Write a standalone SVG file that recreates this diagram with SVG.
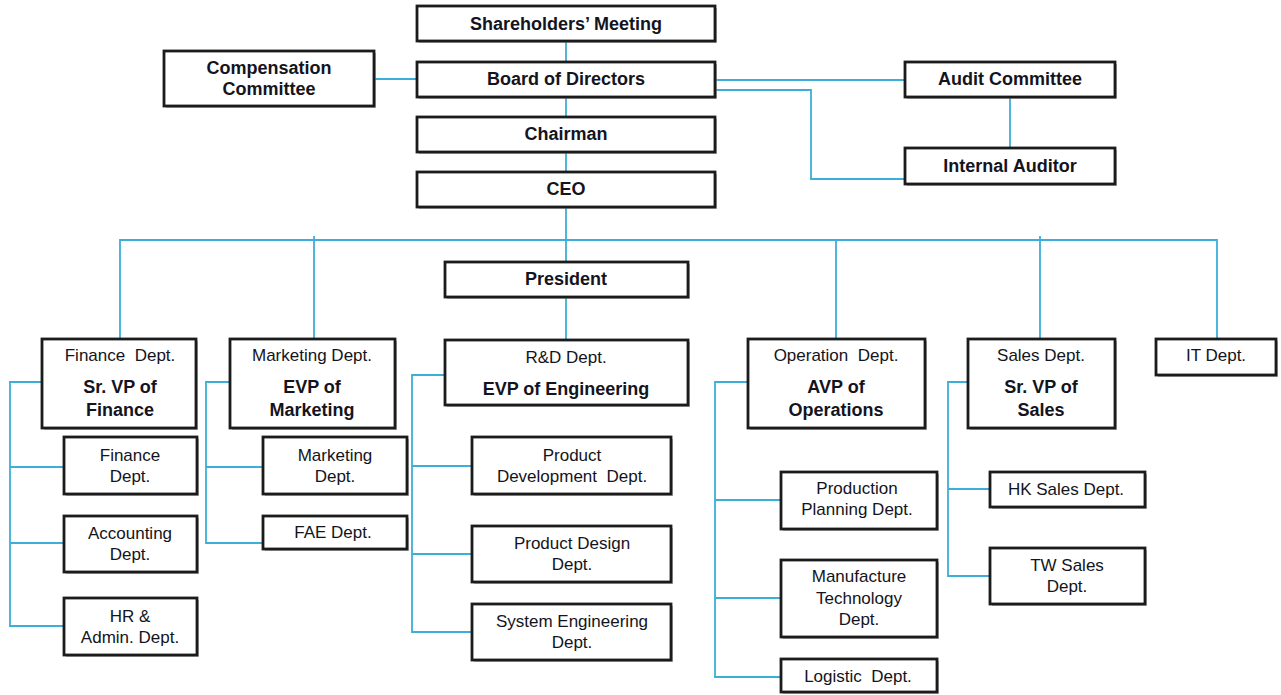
<svg xmlns="http://www.w3.org/2000/svg" width="1281" height="695" viewBox="0 0 1281 695">
<style>
.bx{fill:#fff;stroke:#1b1b1b;stroke-width:2.8}
.sh{fill:#8a8a8a;opacity:0.6}
.b{font-family:"Liberation Sans",Arial,sans-serif;font-weight:bold;font-size:18px;fill:#141420;text-anchor:middle}
.r{font-family:"Liberation Sans",Arial,sans-serif;font-size:17px;fill:#141420;text-anchor:middle;white-space:pre}
.c{fill:none;stroke:#3daed9;stroke-width:1.8}
</style>
<rect width="1281" height="695" fill="#fff"/>
<g id="connectors">
<path class="c" d="M566 41V62M566 97V117M566 152V172M566 207V262M566 297V340"/>
<path class="c" d="M374 79H417M715 80H905M715 90H811V179H905M1010 97V148"/>
<path class="c" d="M120 339V240H1217V339M314 236V339M836 240V339M1040 236V339"/>
<path class="c" d="M42 382H10V626H64M10 467H64M10 543H64"/>
<path class="c" d="M230 382H206V543H263M206 467H263"/>
<path class="c" d="M445 375H412V632H472M412 466H472M412 554H472"/>
<path class="c" d="M748 382H715V677H781M715 500H781M715 598H781"/>
<path class="c" d="M968 382H948V576H990M948 489H990"/>
</g>
<g id="shareholders"><rect class="sh" x="419" y="8" width="298" height="35"/><rect class="bx" x="417" y="6" width="298" height="35"/><text class="b" x="566" y="30">Shareholders’ Meeting</text></g>
<g id="board"><rect class="sh" x="419" y="64" width="298" height="35"/><rect class="bx" x="417" y="62" width="298" height="35"/><text class="b" x="566" y="85">Board of Directors</text></g>
<g id="chairman"><rect class="sh" x="419" y="119" width="298" height="35"/><rect class="bx" x="417" y="117" width="298" height="35"/><text class="b" x="566" y="140">Chairman</text></g>
<g id="ceo"><rect class="sh" x="419" y="174" width="298" height="35"/><rect class="bx" x="417" y="172" width="298" height="35"/><text class="b" x="566" y="195">CEO</text></g>
<g id="compensation"><rect class="sh" x="166" y="53" width="210" height="55"/><rect class="bx" x="164" y="51" width="210" height="55"/><text class="b" x="269" y="74">Compensation</text><text class="b" x="269" y="95">Committee</text></g>
<g id="audit"><rect class="sh" x="907" y="64" width="210" height="35"/><rect class="bx" x="905" y="62" width="210" height="35"/><text class="b" x="1010" y="85">Audit Committee</text></g>
<g id="internal-auditor"><rect class="sh" x="907" y="150" width="210" height="36"/><rect class="bx" x="905" y="148" width="210" height="36"/><text class="b" x="1010" y="172">Internal Auditor</text></g>
<g id="president"><rect class="sh" x="447" y="264" width="243" height="35"/><rect class="bx" x="445" y="262" width="243" height="35"/><text class="b" x="566" y="285">President</text></g>
<g id="finance-head"><rect class="sh" x="44" y="341" width="154" height="89"/><rect class="bx" x="42" y="339" width="154" height="89"/><text class="r" x="120" y="361">Finance  Dept.</text><text class="b" x="120" y="393">Sr. VP of</text><text class="b" x="120" y="416">Finance</text></g>
<g id="marketing-head"><rect class="sh" x="232" y="341" width="165" height="89"/><rect class="bx" x="230" y="339" width="165" height="89"/><text class="r" x="312" y="361">Marketing Dept.</text><text class="b" x="312" y="393">EVP of</text><text class="b" x="312" y="416">Marketing</text></g>
<g id="rd-head"><rect class="sh" x="447" y="342" width="243" height="65"/><rect class="bx" x="445" y="340" width="243" height="65"/><text class="r" x="566" y="363">R&amp;D Dept.</text><text class="b" x="566" y="395">EVP of Engineering</text></g>
<g id="operation-head"><rect class="sh" x="750" y="341" width="177" height="89"/><rect class="bx" x="748" y="339" width="177" height="89"/><text class="r" x="836" y="361">Operation  Dept.</text><text class="b" x="836" y="393">AVP of</text><text class="b" x="836" y="416">Operations</text></g>
<g id="sales-head"><rect class="sh" x="970" y="341" width="147" height="89"/><rect class="bx" x="968" y="339" width="147" height="89"/><text class="r" x="1041" y="361">Sales Dept.</text><text class="b" x="1041" y="393">Sr. VP of</text><text class="b" x="1041" y="416">Sales</text></g>
<g id="it"><rect class="sh" x="1158" y="341" width="120" height="36"/><rect class="bx" x="1156" y="339" width="120" height="36"/><text class="r" x="1216" y="361">IT Dept.</text></g>
<g id="finance-dept"><rect class="sh" x="66" y="439" width="133" height="57"/><rect class="bx" x="64" y="437" width="133" height="57"/><text class="r" x="130" y="461">Finance</text><text class="r" x="130" y="482">Dept.</text></g>
<g id="accounting"><rect class="sh" x="66" y="518" width="133" height="56"/><rect class="bx" x="64" y="516" width="133" height="56"/><text class="r" x="130" y="539">Accounting</text><text class="r" x="130" y="560">Dept.</text></g>
<g id="hr"><rect class="sh" x="66" y="600" width="133" height="57"/><rect class="bx" x="64" y="598" width="133" height="57"/><text class="r" x="130" y="622">HR &amp;</text><text class="r" x="130" y="643">Admin. Dept.</text></g>
<g id="marketing-dept"><rect class="sh" x="265" y="439" width="144" height="57"/><rect class="bx" x="263" y="437" width="144" height="57"/><text class="r" x="335" y="461">Marketing</text><text class="r" x="335" y="482">Dept.</text></g>
<g id="fae"><rect class="sh" x="265" y="518" width="144" height="33"/><rect class="bx" x="263" y="516" width="144" height="33"/><text class="r" x="333" y="538">FAE Dept.</text></g>
<g id="product-dev"><rect class="sh" x="474" y="439" width="199" height="57"/><rect class="bx" x="472" y="437" width="199" height="57"/><text class="r" x="572" y="461">Product</text><text class="r" x="572" y="482">Development  Dept.</text></g>
<g id="product-design"><rect class="sh" x="474" y="528" width="199" height="56"/><rect class="bx" x="472" y="526" width="199" height="56"/><text class="r" x="572" y="549">Product Design</text><text class="r" x="572" y="570">Dept.</text></g>
<g id="system-eng"><rect class="sh" x="474" y="606" width="199" height="56"/><rect class="bx" x="472" y="604" width="199" height="56"/><text class="r" x="572" y="627">System Engineering</text><text class="r" x="572" y="648">Dept.</text></g>
<g id="production-planning"><rect class="sh" x="783" y="474" width="156" height="57"/><rect class="bx" x="781" y="472" width="156" height="57"/><text class="r" x="857" y="494">Production</text><text class="r" x="857" y="515">Planning Dept.</text></g>
<g id="manufacture"><rect class="sh" x="783" y="562" width="156" height="77"/><rect class="bx" x="781" y="560" width="156" height="77"/><text class="r" x="859" y="582">Manufacture</text><text class="r" x="859" y="604">Technology</text><text class="r" x="859" y="625">Dept.</text></g>
<g id="logistic"><rect class="sh" x="783" y="661" width="156" height="33"/><rect class="bx" x="781" y="659" width="156" height="33"/><text class="r" x="858" y="682">Logistic  Dept.</text></g>
<g id="hk-sales"><rect class="sh" x="992" y="474" width="155" height="35"/><rect class="bx" x="990" y="472" width="155" height="35"/><text class="r" x="1066" y="495">HK Sales Dept.</text></g>
<g id="tw-sales"><rect class="sh" x="992" y="550" width="155" height="56"/><rect class="bx" x="990" y="548" width="155" height="56"/><text class="r" x="1067" y="571">TW Sales</text><text class="r" x="1067" y="592">Dept.</text></g>
</svg>
